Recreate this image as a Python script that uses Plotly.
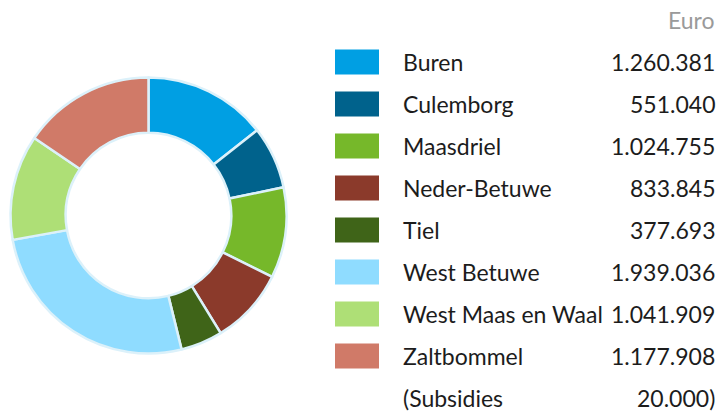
import plotly.graph_objects as go

W, H = 720, 411

gemeenten = ["Buren", "Culemborg", "Maasdriel", "Neder-Betuwe", "Tiel",
             "West Betuwe", "West Maas en Waal", "Zaltbommel"]
# amounts as printed in the legend table
bedragen = [1260381, 551040, 1024755, 833845, 377693, 1939036, 1041909, 1177908]
# slice shares (%) as read from the donut itself
aandeel_pct = [14.4, 7.3, 10.6, 8.9, 4.9, 26.0, 12.3, 15.5]
kleuren = ["#009FE3", "#00628C", "#76B82A", "#8B3A2B", "#3F6418",
           "#8FDCFF", "#AEDF76", "#D07A68"]
extra_label = "(Subsidies"
extra_bedrag = 20000
eenheid = "Euro"

def fmt(v):
    return f"{v:,}".replace(",", ".")

def px(x):
    return x / W

def py(y):
    return 1 - y / H

FONT = "Lato"
TXT = "#1c1c1c"
FS = 23

fig = go.Figure()
fig.add_trace(go.Pie(
    labels=gemeenten, values=aandeel_pct, hole=0.6, sort=False,
    direction="clockwise", rotation=0,
    marker=dict(colors=kleuren, line=dict(color="#DCF1FA", width=2.5)),
    textinfo="none", customdata=[fmt(v) for v in bedragen],
    hovertemplate="%{label}: %{customdata}<extra></extra>", showlegend=False,
    domain=dict(x=[px(10.5), px(286.5)], y=[py(353.5), py(77.5)]),
))

shapes = []
annotations = []
row0, step = 62, 42.0
for i, (n, v, c) in enumerate(zip(gemeenten, bedragen, kleuren)):
    yc = row0 + i * step
    shapes.append(dict(type="rect", xref="paper", yref="paper",
                       x0=px(335), x1=px(379), y0=py(yc + 12.5), y1=py(yc - 12.5),
                       fillcolor=c, line=dict(width=0)))
    annotations.append(dict(x=px(401), y=py(yc), xref="paper", yref="paper",
                            text=n, showarrow=False, xanchor="left", yanchor="middle",
                            font=dict(family=FONT, size=FS, color=TXT)))
    annotations.append(dict(x=px(717), y=py(yc), xref="paper", yref="paper",
                            text=fmt(v), showarrow=False, xanchor="right", yanchor="middle",
                            font=dict(family=FONT, size=FS, color=TXT)))

yc = row0 + len(gemeenten) * step
annotations.append(dict(x=px(401), y=py(yc), xref="paper", yref="paper",
                        text=extra_label, showarrow=False, xanchor="left", yanchor="middle",
                        font=dict(family=FONT, size=FS, color=TXT)))
annotations.append(dict(x=px(717), y=py(yc), xref="paper", yref="paper",
                        text=fmt(extra_bedrag) + ")", showarrow=False, xanchor="right",
                        yanchor="middle", font=dict(family=FONT, size=FS, color=TXT)))
annotations.append(dict(x=px(717), y=py(20), xref="paper", yref="paper",
                        text=eenheid, showarrow=False, xanchor="right", yanchor="middle",
                        font=dict(family=FONT, size=FS, color="#9a9a9a")))

fig.update_layout(width=W, height=H, margin=dict(l=0, r=0, t=0, b=0),
                  paper_bgcolor="white", plot_bgcolor="white",
                  shapes=shapes, annotations=annotations,
                  font=dict(family=FONT))
fig.write_html("out.html", config={"displayModeBar": False},
               post_script="document.body.style.margin='0';document.body.style.overflow='hidden';")
